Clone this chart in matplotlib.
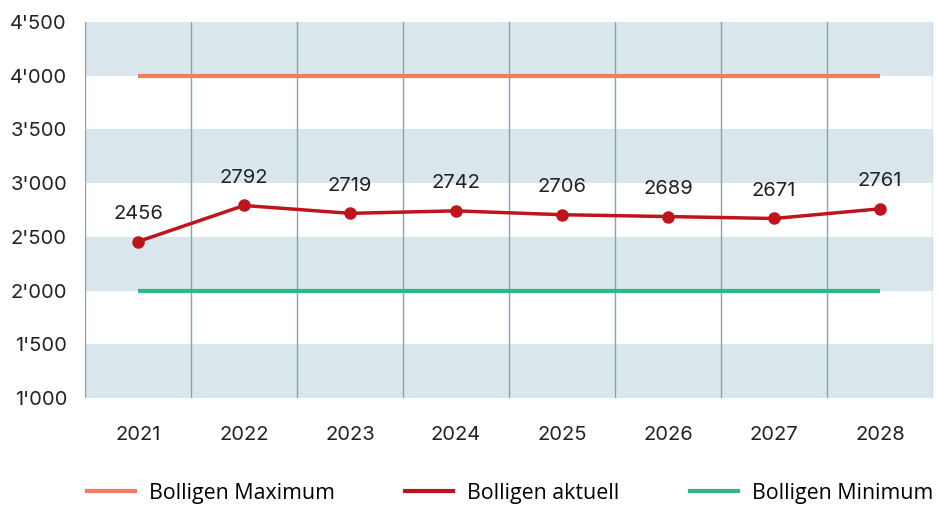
import matplotlib
matplotlib.use("Agg")
import matplotlib.pyplot as plt
from matplotlib.lines import Line2D

years = ["2021", "2022", "2023", "2024", "2025", "2026", "2027", "2028"]
aktuell = [2456, 2792, 2719, 2742, 2706, 2689, 2671, 2761]
maximum = [4000] * 8
minimum = [2000] * 8
yticks = [1000, 1500, 2000, 2500, 3000, 3500, 4000, 4500]
ytick_labels = ["1'000", "1'500", "2'000", "2'500", "3'000", "3'500", "4'000", "4'500"]

c_max = "#f47b5b"
c_act = "#c0141c"
c_min = "#2fb68c"
c_band = "#d9e6ec"
c_grid = "#7ea6b6"

plt.rcParams['font.family'] = ['Inter', 'DejaVu Sans']

fig = plt.figure(figsize=(9.38, 5.05), dpi=100)
ax = fig.add_axes([85/938, 1 - 398/505, (933-85)/938, (398-22)/505])

x = list(range(len(years)))
ax.set_xlim(-0.5, len(years) - 0.5)
ax.set_ylim(1000, 4500)

for lo in [1000, 2000, 3000, 4000]:
    ax.axhspan(lo, lo + 500, color=c_band, lw=0, zorder=0)
for b in range(len(years) + 1):
    ax.axvline(b - 0.5, color=c_grid, lw=1, zorder=1)

ax.plot(x, maximum, color=c_max, lw=3, zorder=2, solid_capstyle='butt')
ax.plot(x, minimum, color=c_min, lw=3, zorder=2, solid_capstyle='butt')
ax.plot(x, aktuell, color=c_act, lw=2.5, marker='o', ms=8, zorder=3)

for xi, v in zip(x, aktuell):
    ax.annotate(str(v), (xi, v), xytext=(0, 20), textcoords='offset points',
                ha='center', va='center', fontsize=14.5, color='#222222')

ax.set_xticks(x)
ax.set_xticklabels(years)
ax.set_yticks(yticks)
ax.set_yticklabels(ytick_labels)
ax.tick_params(axis='both', length=0, labelsize=14.5, colors='#222222')
ax.tick_params(axis='x', pad=20)
ax.tick_params(axis='y', pad=13)
for s in ax.spines.values():
    s.set_visible(False)

handles = [Line2D([0], [0], color=c_max, lw=3),
           Line2D([0], [0], color=c_act, lw=3),
           Line2D([0], [0], color=c_min, lw=3)]
labels = ["Bolligen Maximum", "Bolligen aktuell", "Bolligen Minimum"]
fig.legend(handles, labels, loc='center', bbox_to_anchor=(510/938, 1 - 493/505),
           ncol=3, frameon=False, handlelength=2.25, handletextpad=0.65,
           columnspacing=3.3, borderpad=0, borderaxespad=0,
           prop={'family': ['Open Sans', 'DejaVu Sans'], 'size': 15.4})

fig.savefig("out.png", dpi=100)
